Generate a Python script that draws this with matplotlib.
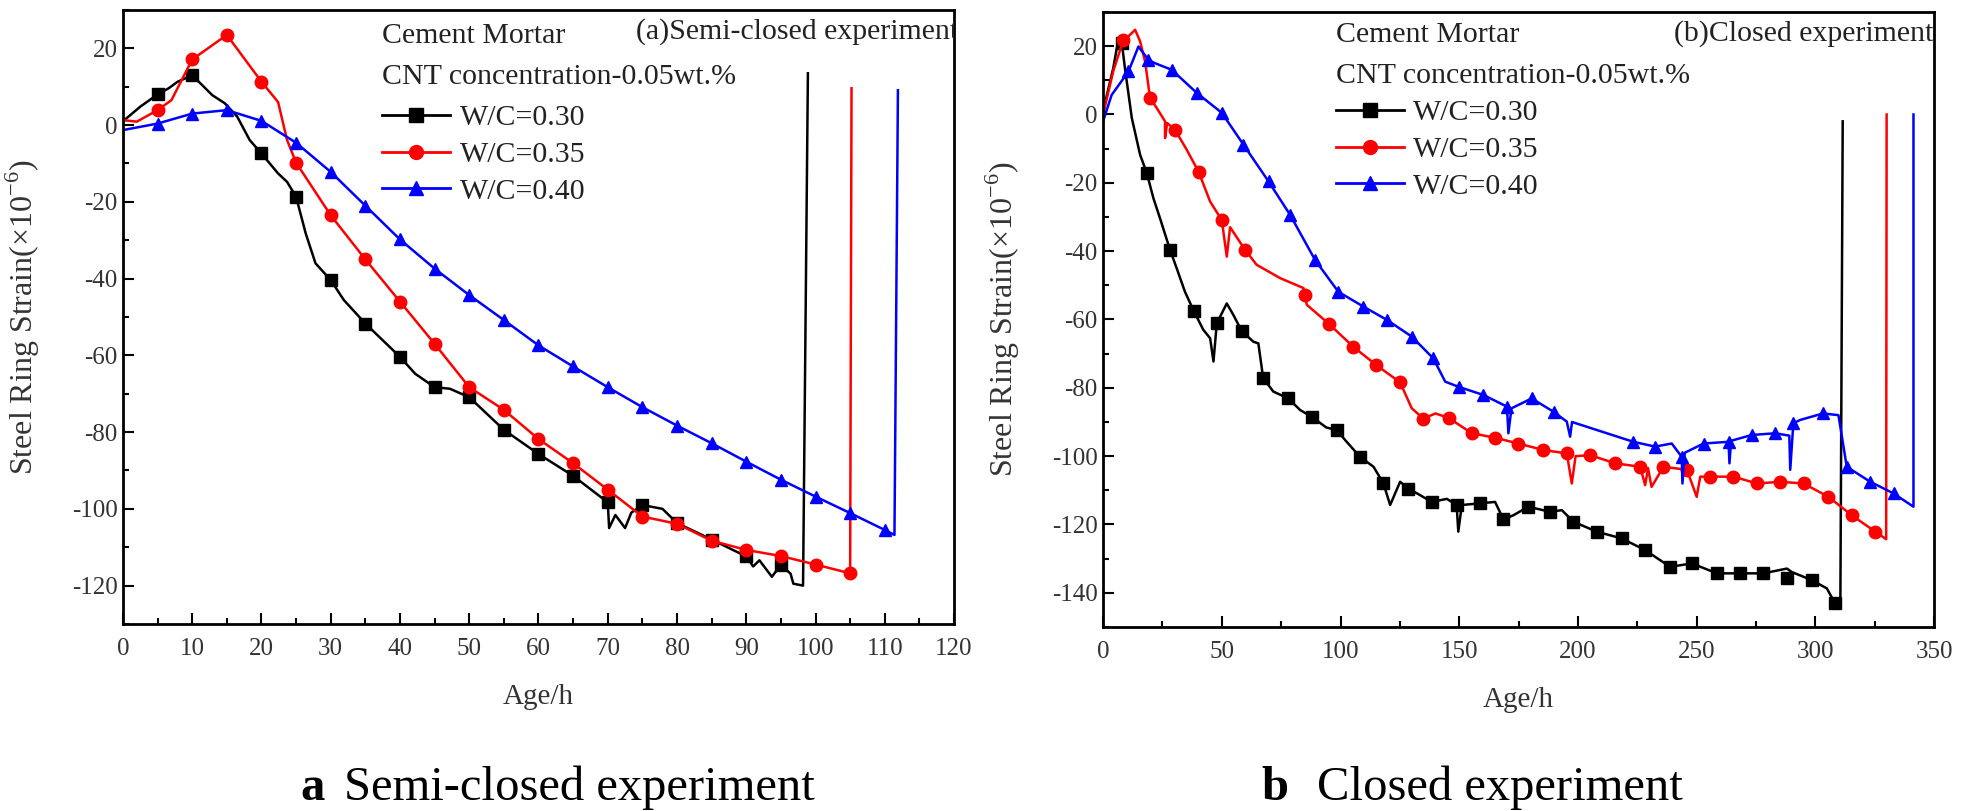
import numpy as np
import matplotlib
matplotlib.use("Agg")
import matplotlib.pyplot as plt
from matplotlib.lines import Line2D
from matplotlib.ticker import MultipleLocator

plt.rcParams['font.family'] = ['Liberation Serif', 'DejaVu Serif']
plt.rcParams['axes.unicode_minus'] = False
plt.rcParams['mathtext.fontset'] = 'custom'
plt.rcParams['mathtext.rm'] = 'Liberation Serif'

labels = ["W/C=0.30", "W/C=0.35", "W/C=0.40"]
colors = ["#000000", "#ff0000", "#0000ff"]
markers = ["s", "o", "^"]

# ---- (a) semi-closed: line traces ----
a_black_x = [0, 2.5, 5, 6.6, 7.9, 10, 12.9, 14.7, 16.5, 18.3, 20, 22.4, 23.7, 25, 26.4, 27.8,
             30, 31.9, 35, 40, 42.2, 45, 47.2, 50, 55, 60, 65, 70, 70.2, 71.1, 72.5, 73.4, 75,
             77.9, 80, 85, 90, 91, 91.9, 93.7, 95, 96.4, 96.8, 98.2, 98.9]
a_black_y = [1, 4.8, 8, 9.6, 11.3, 13, 7.8, 5.7, 2.2, -3.9, -7.4, -12.6, -14.8, -18.7, -28.3, -36,
             -40.4, -45.6, -51.7, -60.4, -64.8, -68.3, -68.7, -70.9, -79.4, -85.7, -91.4, -98.3,
             -105, -101.6, -105, -101, -99, -100, -103.7, -108, -112.4, -115, -113.4, -117.7,
             -114.6, -116.9, -119.5, -120, 13.5]
a_red_x = [0, 2, 5, 7, 10, 15, 20, 22.4, 23.7, 25, 30, 35, 40, 45, 50, 55, 60, 65, 70, 75, 80,
           85, 90, 95, 100, 105, 105.2]
a_red_y = [1.3, 0.9, 3.9, 6.5, 17.1, 23.5, 11.3, 6, -3.9, -9.8, -23.5, -35, -46, -57, -68.3,
           -74.2, -81.8, -88.1, -95, -102, -103.9, -108.3, -110.7, -112.3, -114.5, -116.8, 9.6]
a_blue_x = [0, 5, 10, 15, 20, 25, 30, 35, 40, 45, 50, 55, 60, 65, 70, 75, 80, 85, 90, 95, 100,
            105, 110, 111.4, 111.9]
a_blue_y = [-1.3, 0.4, 3, 3.9, 1.1, -4.6, -12.2, -21, -29.8, -37.4, -44.3, -50.8, -57.4, -62.9,
            -68.3, -73.5, -78.3, -82.9, -87.7, -92.4, -96.8, -101.1, -105.5, -106.8, 9.1]

# ---- (a) marker points ----
a_black_mx = [5, 10, 20, 25, 30, 35, 40, 45, 50, 55, 60, 65, 70, 75, 80, 85, 90, 95]
a_black_my = [8, 13, -7.4, -18.7, -40.4, -51.7, -60.4, -68.3, -70.9, -79.4, -85.7, -91.4, -98.3,
              -99, -103.7, -108, -112.4, -114.6]
a_red_mx = [5, 10, 15, 20, 25, 30, 35, 40, 45, 50, 55, 60, 65, 70, 75, 80, 85, 90, 95, 100, 105]
a_red_my = [3.9, 17.1, 23.5, 11.3, -9.8, -23.5, -35, -46, -57, -68.3, -74.2, -81.8, -88.1, -95,
            -102, -103.9, -108.3, -110.7, -112.3, -114.5, -116.8]
a_blue_mx = a_blue_x[1:23]
a_blue_my = a_blue_y[1:23]

# ---- (b) closed: line traces ----
b_black_x = [0, 4.3, 5.8, 7.9, 9.3, 12.1, 15.6, 18.4, 21.2, 24, 28.2, 31, 34.5, 38.2, 42.2, 45.1,
             46.5, 47.9, 52.1, 54.9, 58.4, 63.3, 65.4, 67.2, 67.5, 71.7, 78, 83, 87.9, 94, 98.4,
             102.6, 108.2, 113.9, 118.1, 120.9, 125.1, 128.6, 133.5, 138.4, 144.8, 148.9, 149.6,
             151.1, 158.8, 165.1, 168.6, 172.8, 179.1, 188.3, 193.2, 198.1, 207.9, 218.5, 228.3,
             238.8, 248, 258.5, 268.3, 278.1, 288, 290, 298.5, 304.8, 308.3, 310.5, 311.5]
b_black_y = [1, 13.6, 19.5, 20.9, 13.1, -1, -11.8, -17.1, -24.5, -30.4, -39.6, -45, -51.9, -57.5,
             -63, -65.5, -72.3, -61.1, -55.3, -58.7, -63.4, -66.5, -67, -76, -77.2, -81.1, -83.1,
             -86.5, -88.5, -91.6, -92.4, -95.8, -100.2, -103.1, -108, -114.3, -107.5, -109.5,
             -111.4, -113.4, -112.5, -114.3, -122.1, -114.3, -113.8, -113.4, -118.5, -117.3,
             -114.8, -116.3, -115.8, -119.2, -122.1, -124.1, -127.5, -132.4, -131.4, -134.3,
             -134.3, -134.3, -132.9, -133.9, -136.3, -138.7, -143.1, -144.6, -2]
b_red_x = [0, 4.3, 8.6, 10.7, 13.5, 15.6, 17.7, 19.8, 22.6, 26.1, 26.1, 27, 30.3, 34.9, 40.2,
           45.1, 50, 52.1, 53.5, 59.8, 64.7, 74.6, 84.4, 85.8, 95.3, 105.4, 115, 125.1, 130,
           134.9, 140, 145.5, 155.3, 165.1, 174.9, 185.4, 195.3, 197.4, 199, 205.1, 215.7, 226.2,
           228.3, 229.5, 231, 236, 245.9, 250, 251.5, 255.7, 265.5, 275.4, 285.2, 295, 305.5,
           315.3, 325.2, 329.8, 330]
b_red_y = [0, 12.7, 21.9, 22.9, 24.8, 21.4, 15.5, 4.8, 1.9, -2, -6.9, -2.5, -4.5, -9.9, -16.7,
           -25.5, -30.9, -41.6, -33, -39.6, -44, -47.9, -50.8, -55.7, -61.4, -68, -73.3, -78.4,
           -86, -89, -87.5, -88.8, -93.3, -94.6, -96.3, -98.2, -99.2, -108, -100, -99.7, -102.1,
           -103.1, -108.5, -103.5, -109, -103.1, -104, -111.9, -106, -106, -106, -108, -107.5,
           -108, -111.9, -117.3, -122.1, -124.3, 0]
b_blue_x = [0, 3.6, 10.7, 14.9, 19.1, 21.9, 28.9, 39.5, 50, 59.1, 69.7, 78.8, 89.3, 99.1, 109.6,
            119.5, 130, 139.1, 144.1, 149.7, 160.2, 170.1, 170.7, 172, 180.5, 189.7, 195.3, 196.7,
            197.5, 223.3, 232.5, 239.5, 243.7, 244, 245, 252.9, 263.4, 263.8, 264.5, 273.2, 283.1,
            289, 289.4, 290.7, 293.6, 303.2, 309.7, 313.2, 323.1, 332.9, 341.3, 341.3]
b_blue_y = [-2, 5.7, 12.6, 19.9, 16, 15, 13.1, 6.3, 0.5, -8.8, -19.6, -29.4, -42.6, -51.9, -56.2,
            -60.1, -65, -71.4, -78.2, -79.7, -82.1, -85.5, -93.3, -86, -83.1, -87, -89.9, -94.3,
            -90, -95.8, -97.2, -96.3, -100.2, -108, -99, -96.3, -95.8, -102.1, -95.5, -93.8,
            -93.3, -94, -104, -90.4, -89.4, -87.5, -88, -103.1, -107.5, -110.9, -114.8, 0]

# ---- (b) marker points ----
b_black_mx = [7.9, 18.4, 28.2, 38.2, 47.9, 58.4, 67.5, 78, 87.9, 98.4, 108.2, 118.1, 128.6, 138.4,
              148.9, 158.8, 168.6, 179.1, 188.3, 198.1, 207.9, 218.5, 228.3, 238.8, 248, 258.5,
              268.3, 278.1, 288, 298.5, 308.3]
b_black_my = [20.9, -17.1, -39.6, -57.5, -61.1, -63.4, -77.2, -83.1, -88.5, -92.4, -100.2, -108,
              -109.5, -113.4, -114.3, -113.8, -118.5, -114.8, -116.3, -119.2, -122.1, -124.1,
              -127.5, -132.4, -131.4, -134.3, -134.3, -134.3, -135.8, -136.3, -143.1]
b_red_mx = [8.6, 19.8, 30.3, 40.2, 50, 59.8, 85.1, 95.3, 105.4, 115, 125.1, 134.9, 145.5, 155.3,
            165.1, 174.9, 185.4, 195.3, 205.1, 215.7, 226.2, 236, 245.9, 255.7, 265.5, 275.4,
            285.2, 295, 305.5, 315.3, 325.2]
b_red_my = [21.9, 4.8, -4.5, -16.7, -30.9, -39.6, -52.8, -61.4, -68, -73.3, -78.4, -89, -88.8,
            -93.3, -94.6, -96.3, -98.2, -99.2, -99.7, -102.1, -103.1, -103.1, -104, -106, -106,
            -108, -107.5, -108, -111.9, -117.3, -122.1]
b_blue_mx = [10.7, 19.1, 28.9, 39.5, 50, 59.1, 69.7, 78.8, 89.3, 99.1, 109.6, 119.5, 130, 139.1,
             149.7, 160.2, 170.1, 180.5, 189.7, 223.3, 232.5, 243.7, 252.9, 263.4, 273.2, 283.1,
             290.7, 303.2, 313.2, 323.1, 332.9]
b_blue_my = [12.6, 16, 13.1, 6.3, 0.5, -8.8, -19.6, -29.4, -42.6, -51.9, -56.2, -60.1, -65, -71.4,
             -79.7, -82.1, -85.5, -83.1, -87, -95.8, -97.2, -100.2, -96.3, -95.8, -93.8, -93.3,
             -90.4, -87.5, -103.1, -107.5, -110.9]

panels = [
    dict(rect=[0.0627, 0.2306, 0.4238, 0.7571], xlim=(0, 120), ylim=(-130, 30),
         xmaj=10, xmin=5, ymaj=20, ymin=10,
         lines=[(a_black_x, a_black_y), (a_red_x, a_red_y), (a_blue_x, a_blue_y)],
         marks=[(a_black_mx, a_black_my), (a_red_mx, a_red_my), (a_blue_mx, a_blue_my)],
         title="(a)Semi-closed experiment", title_x=0.617, note_x=0.312,
         note_y=[0.957, 0.891], leg_y=0.846),
    dict(rect=[0.5625, 0.2269, 0.4238, 0.7583], xlim=(0, 350), ylim=(-150, 30),
         xmaj=50, xmin=25, ymaj=20, ymin=10,
         lines=[(b_black_x, b_black_y), (b_red_x, b_red_y), (b_blue_x, b_blue_y)],
         marks=[(b_black_mx, b_black_my), (b_red_mx, b_red_my), (b_blue_mx, b_blue_my)],
         title="(b)Closed experiment", title_x=0.687, note_x=0.280,
         note_y=[0.963, 0.896], leg_y=0.858),
]

fig = plt.figure(figsize=(19.61, 8.11), dpi=100)

for p in panels:
    ax = fig.add_axes(p["rect"])
    for (lx, ly), (mx, my), c, m in zip(p["lines"], p["marks"], colors, markers):
        ax.plot(lx, ly, color=c, lw=1.8)
        ax.plot(mx, my, ls="none", marker=m, color=c, ms=9)
    ax.set_xlim(*p["xlim"])
    ax.set_ylim(*p["ylim"])
    ax.xaxis.set_major_locator(MultipleLocator(p["xmaj"]))
    ax.xaxis.set_minor_locator(MultipleLocator(p["xmin"]))
    ax.yaxis.set_major_locator(MultipleLocator(p["ymaj"]))
    ax.yaxis.set_minor_locator(MultipleLocator(p["ymin"]))
    ax.tick_params(which="both", direction="in", width=1.5, labelsize=18,
                   labelfontfamily="Liberation Serif", labelcolor="#333333")
    ax.tick_params(which="major", length=8)
    ax.tick_params(which="minor", length=4)
    ax.tick_params(axis="x", pad=10)
    ax.tick_params(axis="y", pad=4)
    for s in ax.spines.values():
        s.set_linewidth(2)

    ax.set_xlabel("Age/h", fontsize=21, color="#333333")
    ax.xaxis.set_label_coords(0.5, -0.097)
    ax.set_ylabel("Steel Ring Strain(×10$^{-6}$)", fontsize=23, color="#333333")
    ax.yaxis.set_label_coords(-0.097, 0.5)

    ax.text(p["title_x"], 0.965, p["title"], transform=ax.transAxes, fontsize=21.5,
            va="center", ha="left", clip_on=True, color="#222222")
    ax.text(p["note_x"], p["note_y"][0], "Cement Mortar", transform=ax.transAxes,
            fontsize=21.5, va="center", ha="left", color="#222222")
    ax.text(p["note_x"], p["note_y"][1], "CNT concentration-0.05wt.%",
            transform=ax.transAxes, fontsize=21.5, va="center", ha="left", color="#222222")

    handles = [Line2D([], [], color=c, marker=m, ms=10, lw=2)
               for c, m in zip(colors, markers)]
    ax.legend(handles, labels, loc="upper left", bbox_to_anchor=(p["note_x"], p["leg_y"]),
              frameon=False, fontsize=21.5, handlelength=2.27, handletextpad=0.33,
              borderpad=0, borderaxespad=0, labelspacing=0.33, labelcolor="#222222")

# captions
fig.text(0.153, 0.0136, "a", fontsize=35, fontweight="bold", va="baseline")
fig.text(0.1754, 0.0136, "Semi-closed experiment", fontsize=35, va="baseline")
fig.text(0.643, 0.0136, "b", fontsize=35, fontweight="bold", va="baseline")
fig.text(0.6716, 0.0136, "Closed experiment", fontsize=35, va="baseline")

fig.savefig("out.png", dpi=100)
